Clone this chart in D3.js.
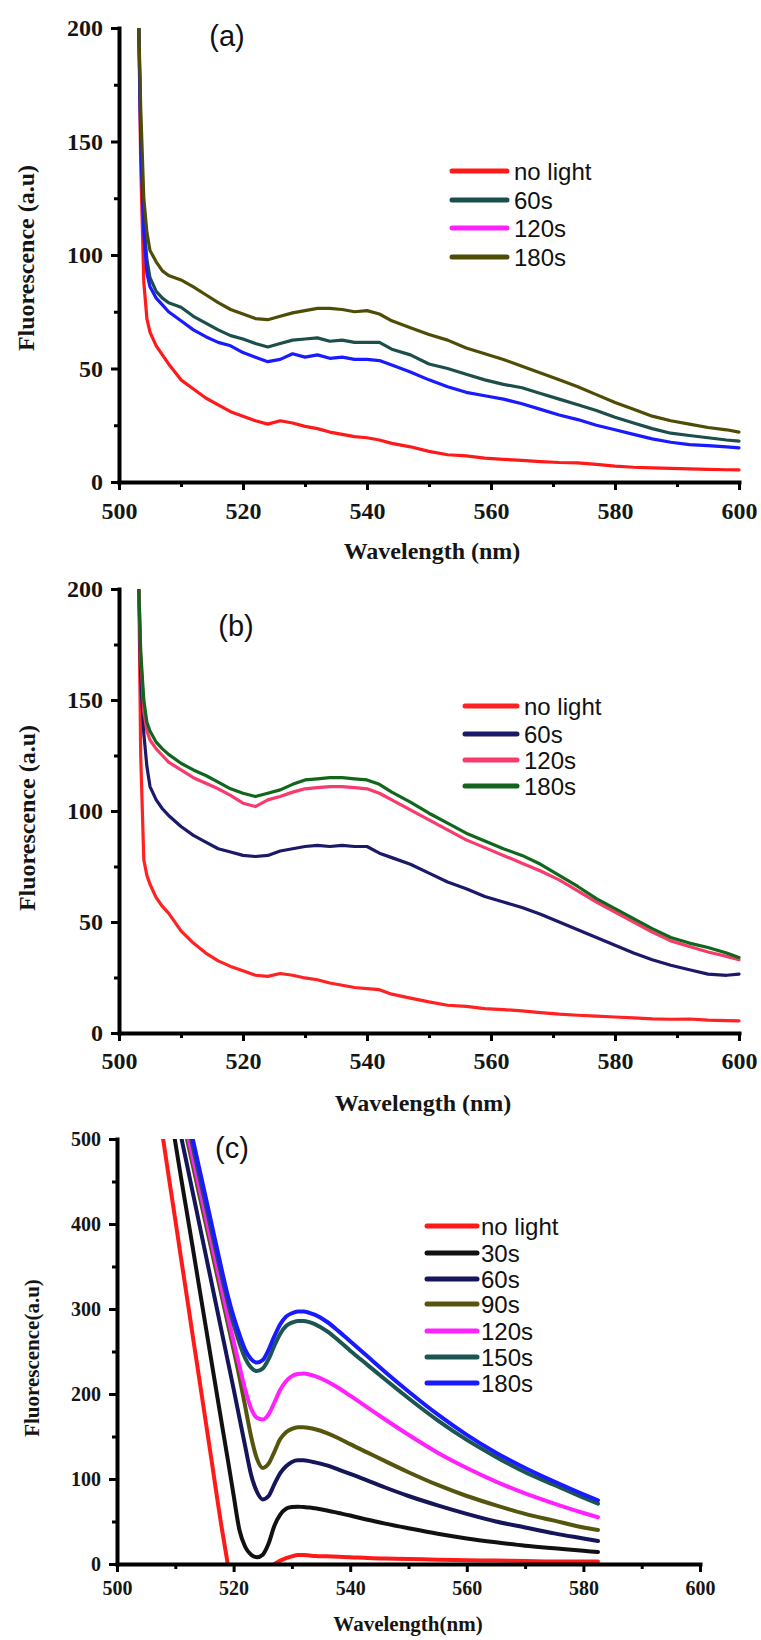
<!DOCTYPE html>
<html>
<head>
<meta charset="utf-8">
<script src="https://cdn.jsdelivr.net/npm/d3@7"></script>
<style>
  body { margin: 0; background: #fff; }
  svg { display: block; }
</style>
</head>
<body>
<svg id="fig" width="761" height="1640"></svg>
<script>
// ---------- Data: panels (a) and (b) share one wavelength grid (nm) ----------
const wavelengthsAB = [503.2, 503.5, 504, 504.5, 505, 506, 507, 508, 510, 512,
  514, 516, 518, 520, 522, 524, 526, 528, 530, 532,
  534, 536, 538, 540, 542, 544, 547, 550, 553, 556,
  559, 562, 565, 568, 571, 574, 577, 580, 583, 586,
  589, 592, 595, 598, 600];

// Panel (a)
const seriesNamesA = ["no light", "60s", "120s", "180s"];
const noLightA = [200, 140, 88, 72, 66, 60, 56, 52, 45, 41,
  37, 34, 31, 29, 27, 25.5, 27, 26, 24.5, 23.5,
  22, 21, 20, 19.5, 18.5, 17, 15.5, 13.5, 12, 11.5,
  10.5, 10, 9.5, 9, 8.6, 8.4, 7.8, 7, 6.5, 6.2,
  6, 5.8, 5.6, 5.4, 5.3];
const s60A = [200, 155, 115, 98, 90, 84, 81, 79, 77, 73,
  70, 67, 64.5, 63, 61, 59.5, 61, 62.5, 63, 63.5,
  62, 62.5, 61.5, 61.5, 61.5, 58.5, 56, 52, 50, 47.5,
  45, 43, 41.5, 39, 36.5, 34, 31.5, 28.5, 26, 23.5,
  21.5, 20.5, 19.5, 18.5, 18];
const s120A = [200, 150, 110, 92, 86, 81, 78, 75, 71, 67,
  64, 61.5, 60, 57, 55, 53, 54, 56.5, 55, 56,
  54.5, 55, 54, 54, 53.5, 51.5, 48.5, 45, 42, 39.5,
  38, 36.5, 34.5, 32, 29.5, 27.5, 25, 23, 21, 19,
  17.5, 16.5, 16, 15.5, 15];
const s180A = [200, 165, 125, 110, 102, 97, 93, 91, 89, 86,
  82.5, 79, 76, 74, 72, 71.5, 73, 74.5, 75.5, 76.5,
  76.5, 76, 75, 75.5, 74, 71, 68, 65, 62.5, 59,
  56.5, 54, 51, 48, 45, 42, 38.5, 35, 32, 29,
  27, 25.5, 24, 23, 22];
const lineColorsA = ["#ff1a1a", "#1c4f4b", "#1a1aff", "#4f4c05"];
const legendColorsA = ["#ff1a1a", "#1c4f4b", "#ff22ff", "#4f4c05"];

// Panel (b)
const seriesNamesB = ["no light", "60s", "120s", "180s"];
const noLightB = [200, 125, 78, 71, 67, 61, 57, 54, 46, 40.5,
  36, 32.5, 30, 28, 26, 25.5, 26.8, 26, 24.8, 24,
  22.5, 21.5, 20.5, 20, 19.5, 17.5, 15.7, 14, 12.5, 12,
  11, 10.5, 10, 9.2, 8.5, 8, 7.6, 7.2, 6.8, 6.4,
  6.2, 6.3, 5.8, 5.6, 5.5];
const s60B = [200, 160, 135, 120, 111, 105, 101, 98, 93, 89,
  86, 83, 81.5, 80, 79.5, 80, 82, 83, 84, 84.5,
  84, 84.5, 84, 84, 81, 79, 76, 72, 68, 65,
  61.5, 59, 56.5, 53.5, 50, 46.5, 43, 39.5, 36, 33,
  30.5, 28.5, 26.5, 26, 26.5];
const s120B = [200, 170, 145, 136, 132, 128, 125, 122, 118.5, 115,
  112.5, 110, 107, 103.5, 102, 105, 106.5, 108.5, 110, 110.5,
  111, 111, 110.5, 110, 108, 105, 100.5, 96, 91.5, 87,
  83.5, 80, 76.5, 73, 69, 64, 59, 54.5, 50, 45.5,
  41.5, 39, 36.5, 34.5, 33];
const s180B = [200, 172, 150, 140, 136, 131, 128, 125.5, 121.5, 118.5,
  116, 113, 110, 108, 106.5, 108, 109.5, 112, 114, 114.5,
  115, 115, 114.5, 114, 112, 108.5, 104, 99, 94.5, 90,
  86.5, 83, 80, 76, 71, 66, 60.5, 56, 51.5, 47,
  43, 40.5, 38.5, 36, 34];
const lineColorsB = ["#ff2222", "#1a1a68", "#f83a6c", "#12661c"];

// Panel (c): its own grid; null marks where a trace is absent
const wavelengthsC = [507, 508, 509, 510, 511, 512, 513, 514, 516, 518,
  519, 520, 521, 522, 523, 524, 525, 526, 527, 528,
  529, 530, 531, 532, 533, 534, 536, 538, 540, 543,
  546, 550, 555, 560, 565, 570, 575, 580, 582.5];
const seriesNamesC = ["no light", "30s", "60s", "90s", "120s", "150s", "180s"];
const noLightC = [541, 496, 450, 405, 359, 314, 268, 223, 132, 41,
  0, null, null, null, null, null, null, null, 0, 4,
  7, 9, 10.5, 10.5, 10, 9.5, 9, 8.5, 8, 7,
  6.5, 6, 5, 4.5, 4, 3.5, 3, 3, 3];
const s30C = [null, null, 541, 496, 454, 413, 372, 330, 247, 164,
  123, 81, 40, 20, 11, 8, 11, 24, 45, 58,
  65, 67, 67.5, 67, 66.5, 65.5, 63, 60, 57, 52,
  47.5, 42, 35.5, 30, 25.5, 21.5, 18.5, 15.5, 14];
const s60C = [null, null, null, 540, 503, 470, 437, 404, 338, 272,
  239, 206, 172, 138, 105, 85, 76, 80, 94, 107,
  115, 120, 122, 122, 121, 119.5, 116, 111, 106, 98,
  90, 80, 69, 59, 50, 43, 36, 30, 27];
const s90C = [null, null, null, null, 531, 500, 469, 438, 376, 314,
  283, 252, 220, 185, 150, 124, 113, 118, 132, 147,
  155, 159, 161, 161, 160, 158.5, 154, 148, 141, 131,
  121, 108, 93, 80, 69, 59, 51, 43, 40];
const s120C = [null, null, null, null, 540, 509, 478, 447, 385, 323,
  292, 262, 233, 205, 183, 172, 170, 176, 190, 205,
  215, 221, 223.5, 224, 223, 221, 215, 207, 198, 184,
  170, 152, 131, 113, 97, 83, 71, 60, 55];
const s150C = [null, null, null, null, null, 522, 491, 460, 398, 337,
  308, 282, 260, 242, 231, 227, 230, 241, 257, 271,
  280, 284, 286, 286, 284.5, 282, 274, 263, 251, 234,
  217, 195, 169, 146, 126, 108, 93, 78, 71];
const s180C = [null, null, null, null, null, 531, 500, 469, 407, 345,
  316, 291, 270, 252, 241, 237, 240, 252, 268, 282,
  291, 295, 297, 297, 295.5, 293, 285, 274, 262, 244,
  226, 203, 176, 152, 131, 113, 97, 82, 75];
const lineColorsC = ["#ff1a1a", "#111111", "#15155a", "#55550e", "#ff22ff", "#1b5652", "#1a1aff"];

// Axis ticks
const xMajor = [500, 520, 540, 560, 580, 600];
const xMinor = [510, 530, 550, 570, 590];
const yMajorAB = [0, 50, 100, 150, 200];
const yMinorAB = [25, 75, 125, 175];
const yMajorC = [0, 100, 200, 300, 400, 500];
const yMinorC = [50, 150, 250, 350, 450];

// ---------- Drawing ----------
const svg = d3.select("#fig");
const serif = "'Liberation Serif', 'Times New Roman', serif";
const sans = "'Liberation Sans', Arial, sans-serif";

function drawPanel(p) {
  const g = svg.append("g");
  const x = d3.scaleLinear().domain([500, 600]).range(p.xRange);
  const y = d3.scaleLinear().domain([0, p.yMax]).range(p.yRange);

  const clipId = "clip-" + p.id;
  svg.append("clipPath").attr("id", clipId).append("rect")
    .attr("x", x(500)).attr("y", y(p.yMax))
    .attr("width", x(600) - x(500) + 4)
    .attr("height", y(0) - y(p.yMax));

  const line = d3.line()
    .defined(d => d[1] !== null)
    .x(d => x(d[0])).y(d => y(d[1]))
    .curve(p.curve);

  const plot = g.append("g").attr("clip-path", `url(#${clipId})`);
  p.series.forEach((vals, i) => {
    plot.append("path")
      .datum(p.wl.map((w, j) => [w, vals[j]]))
      .attr("d", line)
      .attr("fill", "none")
      .attr("stroke", p.colors[i])
      .attr("stroke-width", p.lw)
      .attr("stroke-linejoin", "round")
      .attr("stroke-linecap", "round");
  });

  // bottom axis
  g.append("g").attr("transform", `translate(0,${y(0)})`)
    .call(d3.axisBottom(x).tickValues(xMajor).tickSize(8).tickSizeOuter(0)
      .tickPadding(p.xPad).tickFormat(d3.format("d")));
  g.append("g").attr("transform", `translate(0,${y(0)})`)
    .call(d3.axisBottom(x).tickValues(xMinor).tickSize(5).tickSizeOuter(0).tickFormat(""))
    .call(a => a.select(".domain").remove());
  // left axis
  g.append("g").attr("transform", `translate(${x(500)},0)`)
    .call(d3.axisLeft(y).tickValues(p.yMajor).tickSize(8).tickSizeOuter(0)
      .tickPadding(p.yPad).tickFormat(d3.format("d")));
  g.append("g").attr("transform", `translate(${x(500)},0)`)
    .call(d3.axisLeft(y).tickValues(p.yMinor).tickSize(5).tickSizeOuter(0).tickFormat(""))
    .call(a => a.select(".domain").remove());

  g.selectAll(".domain").attr("stroke", "#000").attr("stroke-width", 4).attr("stroke-linecap", "square");
  g.selectAll(".tick line").attr("stroke", "#000").attr("stroke-width", 3);
  g.selectAll(".tick text")
    .attr("font-family", serif).attr("font-weight", "bold")
    .attr("font-size", p.tickFont).attr("fill", "#151515");

  // axis titles
  g.append("text").text(p.xTitle)
    .attr("x", p.xTitlePos[0]).attr("y", p.xTitlePos[1])
    .attr("text-anchor", "middle")
    .attr("font-family", serif).attr("font-weight", "bold")
    .attr("font-size", p.titleFont).attr("fill", "#151515");
  g.append("text").text(p.yTitle)
    .attr("transform", `translate(${p.yTitlePos[0]},${p.yTitlePos[1]}) rotate(-90)`)
    .attr("text-anchor", "middle").attr("dominant-baseline", "central")
    .attr("font-family", serif).attr("font-weight", "bold")
    .attr("font-size", p.titleFont).attr("fill", "#151515");

  // panel tag
  g.append("text").text(p.tag)
    .attr("x", p.tagPos[0]).attr("y", p.tagPos[1])
    .attr("text-anchor", "middle").attr("dominant-baseline", "central")
    .attr("font-family", sans).attr("font-size", 29).attr("fill", "#111");

  // legend
  const lg = g.append("g");
  p.names.forEach((name, i) => {
    const ry = p.legendRows[i];
    lg.append("line")
      .attr("x1", p.legendX[0]).attr("x2", p.legendX[1])
      .attr("y1", ry).attr("y2", ry)
      .attr("stroke", p.legendColors[i]).attr("stroke-width", 5).attr("stroke-linecap", "round");
    lg.append("text").text(name)
      .attr("x", p.legendX[2]).attr("y", ry)
      .attr("dominant-baseline", "central")
      .attr("font-family", sans).attr("font-size", 24).attr("fill", "#111");
  });
}

drawPanel({
  id: "a", tag: "(a)", tagPos: [227, 36],
  xRange: [119, 739], yMax: 200, yRange: [482, 28],
  yMajor: yMajorAB, yMinor: yMinorAB,
  wl: wavelengthsAB, series: [noLightA, s60A, s120A, s180A],
  colors: lineColorsA, legendColors: legendColorsA, names: seriesNamesA,
  lw: 3.2, curve: d3.curveLinear, tickFont: 24, titleFont: 24, xPad: 12, yPad: 8,
  xTitle: "Wavelength (nm)", xTitlePos: [432, 559],
  yTitle: "Fluorescence (a.u)", yTitlePos: [26, 258],
  legendX: [452, 507, 514], legendRows: [171, 200, 228, 257]
});

drawPanel({
  id: "b", tag: "(b)", tagPos: [236, 626],
  xRange: [119, 739], yMax: 200, yRange: [1033, 589],
  yMajor: yMajorAB, yMinor: yMinorAB,
  wl: wavelengthsAB, series: [noLightB, s60B, s120B, s180B],
  colors: lineColorsB, legendColors: lineColorsB, names: seriesNamesB,
  lw: 3.2, curve: d3.curveLinear, tickFont: 24, titleFont: 24, xPad: 11, yPad: 8,
  xTitle: "Wavelength (nm)", xTitlePos: [423, 1111],
  yTitle: "Fluorescence (a.u)", yTitlePos: [27, 818],
  legendX: [465, 517, 524], legendRows: [706, 734, 760, 786]
});

drawPanel({
  id: "c", tag: "(c)", tagPos: [232, 1148],
  xRange: [117, 700], yMax: 500, yRange: [1564, 1139],
  yMajor: yMajorC, yMinor: yMinorC,
  wl: wavelengthsC, series: [noLightC, s30C, s60C, s90C, s120C, s150C, s180C],
  colors: lineColorsC, legendColors: lineColorsC, names: seriesNamesC,
  lw: 4, curve: d3.curveMonotoneX, tickFont: 20, titleFont: 21, xPad: 9, yPad: 8,
  xTitle: "Wavelength(nm)", xTitlePos: [408, 1631],
  yTitle: "Fluorescence(a.u)", yTitlePos: [32, 1358],
  legendX: [427, 477, 481], legendRows: [1226, 1253, 1279, 1304, 1331, 1357, 1383]
});
</script>
</body>
</html>
